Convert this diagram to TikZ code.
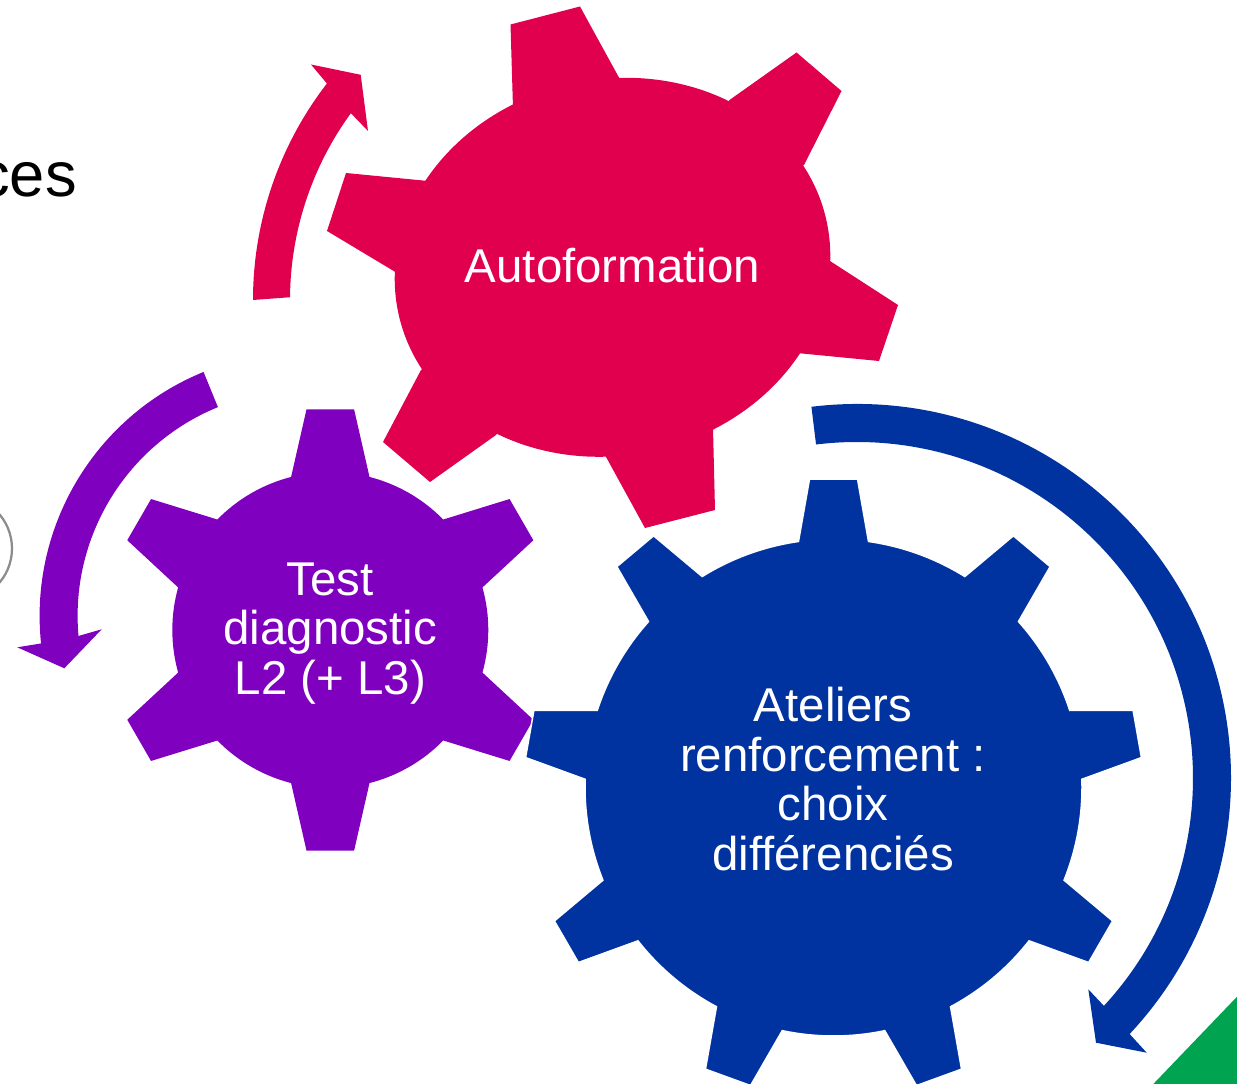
\documentclass[tikz,border=0pt]{standalone}
\usepackage{fontspec}
\setmainfont{Liberation Sans}
\usetikzlibrary{calc}
\definecolor{gred}{RGB}{224,0,77}
\definecolor{gpurple}{RGB}{128,0,192}
\definecolor{gblue}{RGB}{0,51,160}
\definecolor{ggreen}{RGB}{0,163,80}
\definecolor{ggray}{RGB}{140,140,140}
\begin{document}
\begin{tikzpicture}[x=0.02cm,y=0.02cm,
  gtext/.style={text=white, align=center, inner sep=0pt, font=\fontsize{27}{28.3}\selectfont},
  bigarrow/.style={draw=none},
]
\useasboundingbox (0,0) rectangle (1237,-1084);
\clip (0,0) rectangle (1237,-1084);

% partial items at the left edge
\draw[ggray, line width=0.045cm] (-40.8,-548.5) circle[radius=52.8];
\node[anchor=base east, inner sep=0pt, font=\fontsize{36}{40}\selectfont] (ces) at (77,-196.5) {ces};

% green corner
\fill[ggreen] (1153.3,-1084) -- (1237,-996.7) -- (1237,-1084) -- cycle;

% circular arrows
\coordinate (rc) at (607,-300);
\fill[gred, bigarrow] ($(rc)+(180:354)$) arc[start angle=180, end angle=142.3, radius=354]
  -- (311,-64.5) -- (360.7,-74.8) -- (368,-131)
  -- ($(rc)+(143.9:317)$) arc[start angle=143.9, end angle=179.5, radius=317] -- cycle;

\coordinate (pc) at (303.1,-615.9);
\fill[gpurple, bigarrow] ($(pc)+(112.2:263.5)$) arc[start angle=112.2, end angle=186, radius=263.5]
  -- (17.3,-647.3) -- (64.3,-668.3) -- (101.7,-629.3)
  -- ($(pc)+(185.1:225.5)$) arc[start angle=185.1, end angle=112.2, radius=225.5] -- cycle;

\coordinate (bc) at (857,-778);
\fill[gblue, bigarrow] ($(bc)+(97:374)$) arc[start angle=97, end angle=-43.2, radius=374]
  -- (1146.7,-1052.7) -- (1096,-1042.7) -- (1088.3,-989.3)
  -- ($(bc)+(-42.7:336)$) arc[start angle=-42.7, end angle=97, radius=336] -- cycle;

% red gear (6 teeth)
\coordinate (redc) at (612.5,-267.3);
\fill[gred, rotate around={12:(redc)}] (redc) ellipse[x radius=219, y radius=188];
\fill[gred] (redc) -- (513,-108) -- (510.5,-24.5) -- (580,-6.5) -- (619.5,-78.5) -- cycle;
\fill[gred] (redc) -- (729.5,-100) -- (796.5,-52.5) -- (841.5,-91) -- (804,-165) -- cycle;
\fill[gred] (redc) -- (830,-261) -- (898,-305) -- (879,-361) -- (797,-353) -- cycle;
\fill[gred] (redc) -- (713,-428) -- (715,-510) -- (645,-528) -- (605.5,-456) -- cycle;
\fill[gred] (redc) -- (496,-435) -- (430,-482) -- (383,-442) -- (421,-370) -- cycle;
\fill[gred] (redc) -- (397,-273) -- (327,-231) -- (346,-173) -- (428,-181) -- cycle;

% purple gear (6 teeth)
\begin{scope}[shift={(330.3,-630)}]
\fill[gpurple] ({90-14.37}:158)
  \foreach \t in {90,150,...,390} {
    -- ({\t-6.15}:222) -- ({\t+6.15}:222) -- ({\t+14.37}:158)
    arc[start angle={\t+14.37}, end angle={\t+60-14.37}, radius=158]
  } -- cycle;
\end{scope}

% blue gear (9 teeth)
\begin{scope}[shift={(833.5,-787.5)}]
\filldraw[fill=gblue, draw=white, line width=0.03cm] ({90-8.1}:248.5)
  \foreach \t in {90,130,...,410} {
    -- ({\t-4.45}:309.4) -- ({\t+4.45}:309.4) -- ({\t+8.1}:248.5)
    arc[start angle={\t+8.1}, end angle={\t+40-8.1}, radius=248.5]
  } -- cycle;
\end{scope}

% labels
\node[gtext, anchor=base] (auto) at (612.5,-282.5) {Autoformation};
\node[gtext] (test) at (330.3,-633.5) {Test\\diagnostic\\L2 (+ L3)};
\node[gtext] (atel) at (833,-779) {Ateliers\\renforcement :\\choix\\différenciés};
\end{tikzpicture}
\end{document}
